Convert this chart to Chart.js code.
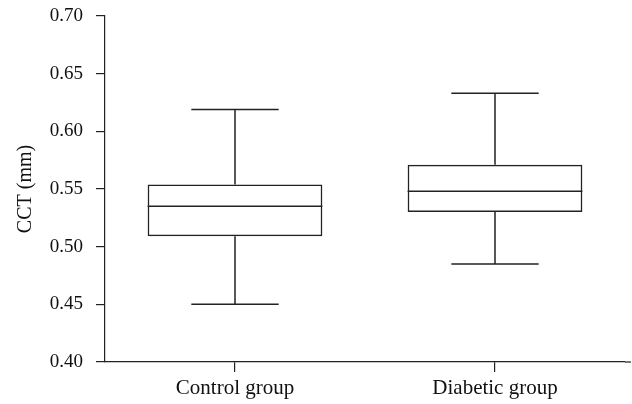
<!DOCTYPE html>
<html>
<head>
<meta charset="utf-8">
<script src="https://cdn.jsdelivr.net/npm/chart.js@4.4.1/dist/chart.umd.min.js"></script>
<style>
  html, body { margin: 0; padding: 0; background: #fff; }
  #wrap { width: 632px; height: 404px; }
</style>
</head>
<body>
<div id="wrap"><canvas id="grafica"></canvas></div>
<script>
// datos
const grupos = ["Control group", "Diabetic group"];
const minimos = [0.450, 0.485];
const cuartil1 = [0.509, 0.530];
const medianas = [0.535, 0.548];
const cuartil3 = [0.554, 0.571];
const maximos = [0.619, 0.633];
const ticksY = [0.40, 0.45, 0.50, 0.55, 0.60, 0.65, 0.70];

const colorLinea = "#222";
const fuente = "'Liberation Serif', 'Times New Roman', serif";

// bigotes y mediana usando las escalas de Chart.js
const bigotes = {
  id: "bigotes",
  afterDatasetsDraw(chart) {
    const ctx = chart.ctx;
    const y = chart.scales.y;
    const meta = chart.getDatasetMeta(0);
    ctx.save();
    ctx.strokeStyle = colorLinea;
    ctx.lineWidth = 1.5;
    meta.data.forEach((bar, i) => {
      const x = bar.x;
      const mitad = bar.width / 2;
      const cap = bar.width / 4;
      const yMin = y.getPixelForValue(minimos[i]);
      const yQ1 = y.getPixelForValue(cuartil1[i]);
      const yMed = y.getPixelForValue(medianas[i]);
      const yQ3 = y.getPixelForValue(cuartil3[i]);
      const yMax = y.getPixelForValue(maximos[i]);
      ctx.beginPath();
      ctx.moveTo(x, yQ3); ctx.lineTo(x, yMax);
      ctx.moveTo(x - cap, yMax); ctx.lineTo(x + cap, yMax);
      ctx.moveTo(x, yQ1); ctx.lineTo(x, yMin);
      ctx.moveTo(x - cap, yMin); ctx.lineTo(x + cap, yMin);
      ctx.moveTo(x - mitad, yMed); ctx.lineTo(x + mitad, yMed);
      ctx.stroke();
    });
    // el eje x sigue un poco a la derecha
    const xs = chart.scales.x;
    ctx.lineWidth = 1.2;
    ctx.beginPath();
    ctx.moveTo(chart.chartArea.right, xs.top);
    ctx.lineTo(631, xs.top);
    ctx.stroke();
    ctx.restore();
  }
};

new Chart(document.getElementById("grafica"), {
  type: "bar",
  data: {
    labels: grupos,
    datasets: [{
      data: grupos.map((g, i) => [cuartil1[i], cuartil3[i]]),
      backgroundColor: "rgba(255,255,255,0)",
      borderColor: colorLinea,
      borderWidth: 1.5,
      borderSkipped: false,
      barPercentage: 0.672,
      categoryPercentage: 1
    }]
  },
  options: {
    responsive: true,
    maintainAspectRatio: false,
    animation: false,
    layout: { autoPadding: false, padding: { top: 16, right: 7, left: 0, bottom: 0 } },
    plugins: {
      legend: { display: false },
      tooltip: { enabled: false }
    },
    scales: {
      x: {
        grid: { display: true, offset: false, drawOnChartArea: false, drawTicks: true, tickLength: 10, color: colorLinea, lineWidth: 1.2 },
        border: { display: true, color: colorLinea, width: 1.2 },
        ticks: { color: "#111", font: { family: fuente, size: 21 }, padding: 4, maxRotation: 0 },
        afterFit(s) { s.height = 42; }
      },
      y: {
        min: 0.40,
        max: 0.70,
        afterBuildTicks(s) { s.ticks = ticksY.map(v => ({ value: v })); },
        grid: { display: true, drawOnChartArea: false, drawTicks: true, tickLength: 9, color: colorLinea, lineWidth: 1.2 },
        border: { display: true, color: colorLinea, width: 1.2 },
        ticks: { color: "#111", font: { family: fuente, size: 19 }, padding: 13, callback: v => v.toFixed(2) },
        title: { display: true, text: "CCT (mm)", color: "#111", font: { family: fuente, size: 20 }, padding: { top: 14, bottom: 0 } },
        afterFit(s) { s.width = 105; s.paddingTop = 0; s.paddingBottom = 0; }
      }
    }
  },
  plugins: [bigotes]
});
</script>
</body>
</html>
